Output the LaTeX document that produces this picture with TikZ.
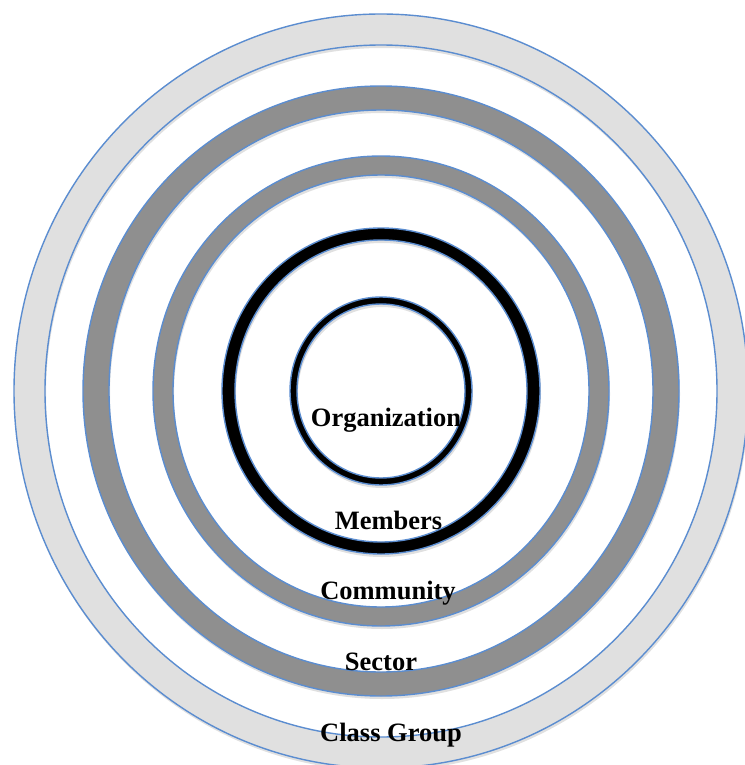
\documentclass[tikz,border=0pt]{standalone}
\usepackage{fontspec}
\setmainfont{Liberation Serif}
\definecolor{ringblue}{HTML}{5B8DD0}
\definecolor{lightring}{HTML}{E0E0E0}
\definecolor{darkring}{HTML}{8F8F8F}
\begin{document}
\begin{tikzpicture}[x=1pt, y=-1pt,
    ring/.style={draw=ringblue, line width=1.4pt, even odd rule},
    ringshadow/.style={fill=black, opacity=0.12, even odd rule},
    ringtext/.style={font=\fontsize{26.5}{30}\selectfont\bfseries, anchor=base, inner sep=0pt}]
    \useasboundingbox[fill=white] (0,0) rectangle (744,765);
    \coordinate (c) at (381,391);
    \coordinate (cs) at (382,394);
    % rings from outside to inside
    \foreach \rxo/\ryo/\rxi/\ryi/\col in {367/377/336/346/lightring,
        298/305/272/281/darkring,
        228/235/208/216/darkring,
        159/163/146/151/black,
        91/94/84/87/black} {
        \fill[ringshadow] (cs) ellipse [x radius=\rxo, y radius=\ryo]
            (cs) ellipse [x radius=\rxi, y radius=\ryi];
        \filldraw[ring, fill=\col] (c) ellipse [x radius=\rxo, y radius=\ryo]
            (c) ellipse [x radius=\rxi, y radius=\ryi];
    }
    \node[ringtext] (org) at (386,426) {Organization};
    \node[ringtext] (mem) at (388.5,529) {Members};
    \node[ringtext] (com) at (388,599) {Community};
    \node[ringtext] (sec) at (381,670) {Sector};
    \node[ringtext] (cls) at (391,741) {Class Group};
\end{tikzpicture}
\end{document}
